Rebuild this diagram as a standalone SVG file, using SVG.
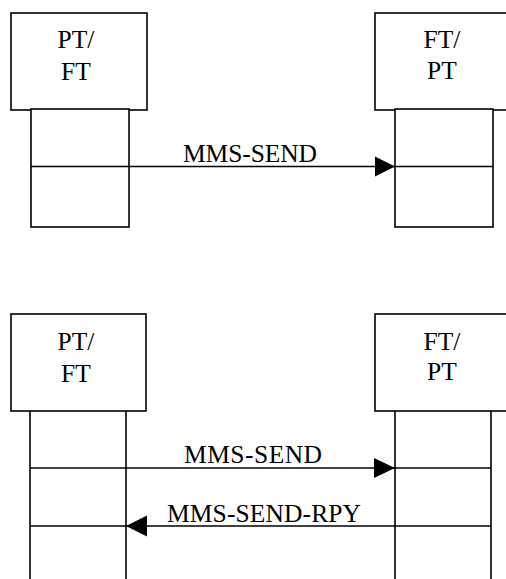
<svg xmlns="http://www.w3.org/2000/svg" width="506" height="579" viewBox="0 0 506 579">
<defs>
<style>
.box{fill:#fff;stroke:#000;stroke-width:1.6}
.ln{stroke:#000;stroke-width:1.6;fill:none}
.t{font-family:"Liberation Serif","Times New Roman",serif;font-size:25.5px;fill:#000;text-anchor:middle}
.ah{fill:#000}
</style>
</defs>
<rect width="506" height="579" fill="#fff"/>
<!-- Top section -->
<g id="top-left">
<rect class="box" x="11" y="13" width="136" height="97"/>
<text class="t" x="76" y="48">PT/</text>
<text class="t" x="76" y="80">FT</text>
<rect class="box" x="31" y="109" width="98" height="118"/>
</g>
<g id="top-right">
<rect class="box" x="375" y="13" width="140" height="97"/>
<text class="t" x="442" y="48">FT/</text>
<text class="t" x="442" y="79">PT</text>
<rect class="box" x="395" y="109" width="98" height="118"/>
</g>
<!-- Bottom section -->
<g id="bottom-left">
<rect class="box" x="11" y="314" width="135" height="97"/>
<text class="t" x="76" y="350">PT/</text>
<text class="t" x="76" y="382">FT</text>
<path class="ln" d="M30,411 V580 M126,411 V580"/>
</g>
<g id="bottom-right">
<rect class="box" x="375" y="314" width="140" height="97"/>
<text class="t" x="442" y="350">FT/</text>
<text class="t" x="442" y="380">PT</text>
<path class="ln" d="M395,411 V580 M491,411 V580"/>
</g>
<g id="connectors">
<!-- top MMS-SEND -->
<path class="ln" d="M31,166.5 H493"/>
<polygon class="ah" points="395,166.5 375,156.5 375,176.5"/>
<text class="t" x="250" y="162" textLength="134" lengthAdjust="spacing">MMS-SEND</text>
<!-- bottom MMS-SEND -->
<path class="ln" d="M30,468 H491"/>
<polygon class="ah" points="395,468 374,458 374,478"/>
<text class="t" x="253" y="463" textLength="138" lengthAdjust="spacing">MMS-SEND</text>
<!-- MMS-SEND-RPY -->
<path class="ln" d="M30,526 H491"/>
<polygon class="ah" points="126,526 147,515.5 147,536.5"/>
<text class="t" x="264" y="521.5" textLength="194" lengthAdjust="spacing">MMS-SEND-RPY</text>
</g>
</svg>
